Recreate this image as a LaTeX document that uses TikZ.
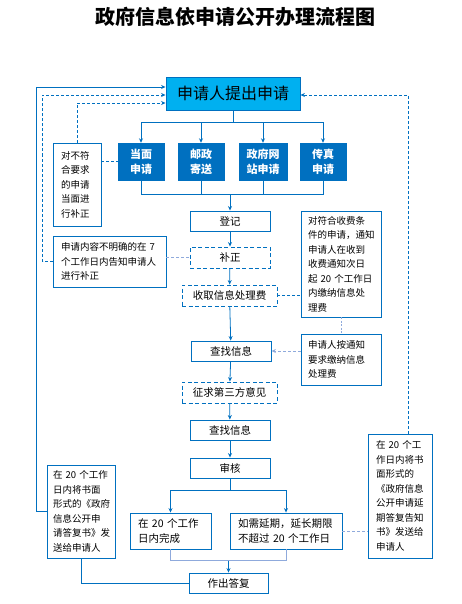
\documentclass[tikz,border=0pt]{standalone}
\usepackage{fontspec}
\setmainfont{Noto Sans CJK SC}
\usepackage{tikz}
\usetikzlibrary{arrows.meta, positioning}
\usepackage{xcolor}
\definecolor{mainblue}{HTML}{0070C0}
\definecolor{skyblue}{HTML}{00B0F0}
\definecolor{paleblue}{HTML}{8FAADC}

\begin{document}
\begin{tikzpicture}[x=1pt, y=-1pt,
    topbox/.style = {rectangle, draw=mainblue, fill=skyblue, line width=0.9pt, inner sep=0pt, font=\fontsize{16}{18}\selectfont},
    waybox/.style = {rectangle, draw=mainblue, fill=mainblue, text=white, inner sep=0pt, align=center, font=\fontsize{11}{15}\selectfont\bfseries, minimum width=46pt, minimum height=37pt},
    box/.style = {rectangle, draw=mainblue, fill=white, line width=0.9pt, inner sep=0pt, align=center, font=\fontsize{10.5}{15}\selectfont, minimum width=80pt, minimum height=20pt},
    dashbox/.style = {box, dashed, dash pattern=on 4pt off 2.5pt},
    note/.style = {rectangle, draw=mainblue, fill=white, line width=0.9pt, inner xsep=8pt, inner ysep=0pt, align=left, font=\fontsize{9.5}{14.5}\selectfont},
    link/.style = {draw=mainblue, line width=0.8pt},
    arrow/.style = {link, ->, >={Stealth[length=4.5pt, width=4pt]}},
    dlink/.style = {link, dashed, dash pattern=on 3pt off 2pt},
    darrow/.style = {dlink, ->, >={Stealth[length=4.5pt, width=4pt]}}
]
\useasboundingbox (0,0) rectangle (461,604);

\node (title) at (235,17) {\fontsize{20}{22}\selectfont\bfseries 政府信息依申请公开办理流程图};

\node (top) [topbox, minimum width=134pt, minimum height=33pt] at (233,93.5) {申请人提出申请};

% Four ways of applying
\node (dm) [waybox] at (141,161.5) {当面\\申请};
\node (yz) [waybox] at (201,161.5) {邮政\\寄送};
\node (zf) [waybox, minimum width=48pt] at (263,161.5) {政府网\\站申请};
\node (cz) [waybox] at (323,161.5) {传真\\申请};

% Main column
\node (dj) [box] at (230,221) {登记};
\node (bz) [dashbox, minimum height=21pt] at (230,257.5) {补正};
\node (sf) [dashbox, minimum width=95pt, minimum height=21pt] at (229.5,295.5) {收取信息处理费};
\node (cx1) [box] at (231,351) {查找信息};
\node (zq) [dashbox, minimum width=95pt, minimum height=21pt] at (229.5,392.5) {征求第三方意见};
\node (cx2) [box] at (230,430) {查找信息};
\node (sh) [box] at (230,468) {审核};
\node (wc) [box, align=left, inner xsep=8pt, text width=65pt, minimum height=36pt] at (170.5,531) {在 20 个工作\\日内完成};
\node (yq) [box, align=left, inner xsep=8pt, text width=96pt, minimum height=36pt] at (286,531) {如需延期，延长期限\\不超过 20 个工作日};
\node (df) [box, minimum width=79pt] at (228.5,583) {作出答复};

% Left notes
\node (n1) [note, text width=32pt, minimum height=83pt] at (77,184.5) {对不符\\合要求\\的申请\\当面进\\行补正};
\node (n2) [note, text width=97pt, minimum height=51pt] at (109.5,261.5) {申请内容不明确的在 7\\个工作日内告知申请人\\进行补正};
\node (n3) [note, inner xsep=6pt, text width=56pt, minimum height=93pt] at (81,511.5) {在 20 个工作\\日内将书面\\形式的《政府\\信息公开申\\请答复书》发\\送给申请人};

% Right notes
\node (n4) [note, inner xsep=7pt, text width=66pt, minimum height=106pt] at (341,264) {对符合收费条\\件的申请，通知\\申请人在收到\\收费通知次日\\起 20 个工作日\\内缴纳信息处\\理费};
\node (n5) [note, inner xsep=7pt, text width=66pt, minimum height=51pt] at (341,359.5) {申请人按通知\\要求缴纳信息\\处理费};
\node (n6) [note, text width=48pt, minimum height=124pt] at (400,496) {在 20 个工\\作日内将书\\面形式的\\《政府信息\\公开申请延\\期答复告知\\书》发送给\\申请人};

% Fork to the four ways
\draw [link] (top.south) -- ++(0,12) coordinate (fk);
\draw [link] (fk -| dm) -- (fk -| cz);
\draw [arrow] (fk -| dm) -- (dm.north);
\draw [arrow] (fk -| yz) -- (yz.north);
\draw [arrow] (fk -| zf) -- (zf.north);
\draw [arrow] (fk -| cz) -- (cz.north);

% Join to register
\path (dj.north) ++(0,-16) coordinate (jn);
\draw [link] (dm.south) -- (dm.south |- jn) -- (cz.south |- jn) -- (cz.south);
\draw [link] (yz.south) -- (yz.south |- jn);
\draw [link] (zf.south) -- (zf.south |- jn);
\draw [arrow] (jn) -- (dj);

\draw [arrow] (dj) -- (bz);
\draw [arrow] (bz) -- (sf);
\draw [arrow] (sf) -- (cx1);
\draw [arrow] (cx1) -- (zq);
\draw [arrow] (zq) -- (cx2);
\draw [arrow] (cx2) -- (sh);

% Split after review
\draw [link] (sh.south) -- ++(0,12) coordinate (sp);
\draw [link] (sp -| wc) -- (sp -| yq);
\draw [arrow] (sp -| wc) -- (wc.north);
\draw [arrow] (sp -| yq) -- (yq.north);

% Join to reply
\path (df.north) ++(0,-12) coordinate (mg);
\draw [link, draw=paleblue] (wc.south) -- (wc.south |- mg) -- (yq.south |- mg) -- (yq.south);
\draw [arrow] (mg) -- (df);

% Left loops back to the applicant
\draw [darrow] (n1.north) |- ([yshift=-9.5pt]top.west);
\draw [dlink] (n1.east |- dm.west) -- (dm.west);
\draw [darrow] (n2.west) -- ++(-10,0) |- ([yshift=-1.5pt]top.west);
\draw [dlink, draw=paleblue] (n2.east |- bz.west) -- (bz.west);
\draw [arrow] (n3.west) -- ++(-10,0) |- ([yshift=6.5pt]top.west);
\draw [link] (n3.south) |- (df.west);

% Right notes
\draw [dlink] (sf.east) -- (sf.east -| n4.west);
\draw [dlink, draw=paleblue, dash pattern=on 2pt off 1.5pt] (n4.south -| n5.north) -- (n5.north);
\draw [darrow, draw=paleblue] (cx1.east -| n5.west) -- (cx1.east);
\draw [dlink, draw=paleblue] (yq.east) -- (yq.east -| n6.west);
\draw [darrow] ([xshift=8pt]n6.north) |- ([yshift=-1.5pt]top.east);

\end{tikzpicture}
\end{document}
